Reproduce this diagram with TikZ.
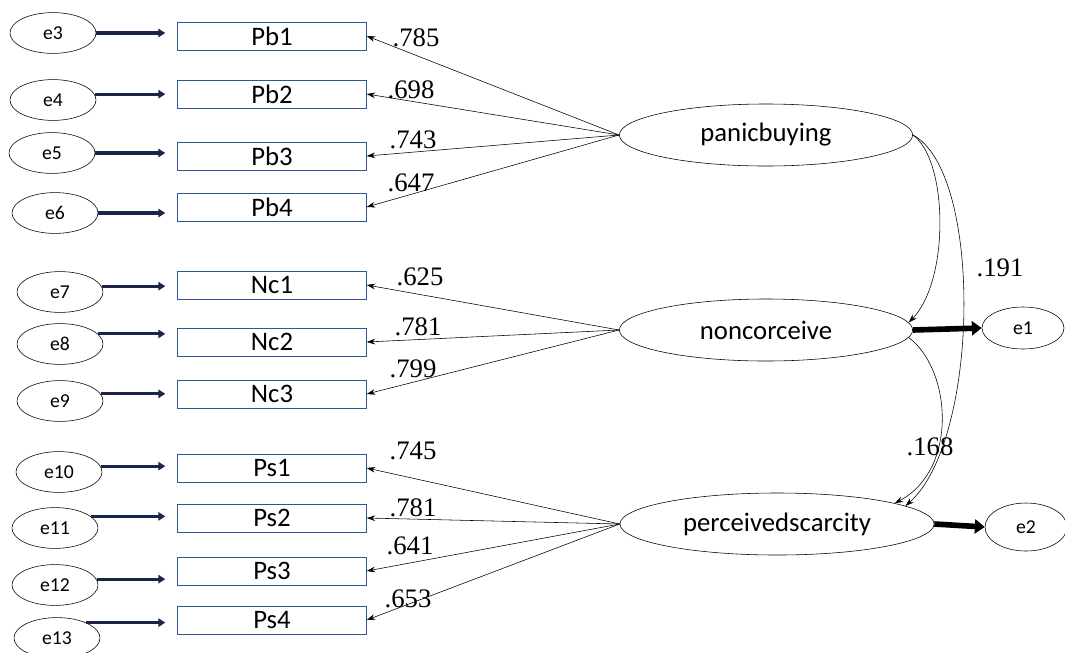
\documentclass[tikz,border=0pt]{standalone}
\usepackage{fontspec}
\setmainfont{Liberation Serif}
\newfontfamily\calib{Carlito}
\usetikzlibrary{positioning,arrows.meta,shapes.geometric}
\definecolor{boxblue}{HTML}{2F5597}
\definecolor{errnavy}{HTML}{1B2548}

\tikzset{
  obs/.style={draw=boxblue, thin, minimum width=4.72cm, minimum height=0.7cm, inner sep=0pt, font=\calib\fontsize{19}{19}\selectfont},
  err/.style={ellipse, draw, thin, minimum width=2.15cm, minimum height=1.02cm, inner sep=0pt, font=\calib\fontsize{14}{14}\selectfont},
  lat/.style={ellipse, draw, thin, minimum width=7.33cm, minimum height=1.55cm, inner sep=0pt, font=\calib\fontsize{19}{19}\selectfont},
  errarrow/.style={draw=errnavy, line width=2.2pt, -{Triangle[length=5pt,width=6pt]}, shorten >=0.3cm},
  bigarrow/.style={draw=black, line width=4pt, -{Triangle[length=7pt,width=10pt]}},
  load/.style={draw, thin, -{Stealth[length=6pt,width=4pt]}},
  coef/.style={font=\fontsize{19}{19}\selectfont, inner sep=0pt}
}

\begin{document}
\begin{tikzpicture}[x=0.025cm,y=-0.025cm]
    \useasboundingbox (0,0) rectangle (1065,652);
    % latent variables
    \node[lat] (pb) at (766,135) {panicbuying};
    \node[lat] (nc) at (766,330) {noncorceive};
    \node[lat, minimum width=7.85cm] (ps) at (777,524) {perceivedscarcity};
    \node[err, minimum width=2.05cm, minimum height=1.05cm] (e1) at (1023,328) {e1};
    \node[err, minimum width=2.05cm, minimum height=1.2cm] (e2) at (1026,527) {e2};
    % indicators
    \node[obs] (Pb1) at (272,36) {Pb1};
    \node[obs] (Pb2) at (272,94) {Pb2};
    \node[obs] (Pb3) at (272,156) {Pb3};
    \node[obs] (Pb4) at (272,207) {Pb4};
    \node[obs] (Nc1) at (272,285) {Nc1};
    \node[obs] (Nc2) at (272,342) {Nc2};
    \node[obs] (Nc3) at (272,394) {Nc3};
    \node[obs] (Ps1) at (272,468) {Ps1};
    \node[obs] (Ps2) at (272,518) {Ps2};
    \node[obs] (Ps3) at (272,571) {Ps3};
    \node[obs] (Ps4) at (272,620) {Ps4};
    % error terms
    \node[err] (e3) at (53,33) {e3};
    \node[err] (e4) at (53,100) {e4};
    \node[err] (e5) at (52,153) {e5};
    \node[err] (e6) at (55,213) {e6};
    \node[err] (e7) at (60,292) {e7};
    \node[err] (e8) at (60,344) {e8};
    \node[err] (e9) at (60,401) {e9};
    \node[err] (e10) at (59,472) {e10};
    \node[err] (e11) at (55,528) {e11};
    \node[err] (e12) at (55,585) {e12};
    \node[err] (e13) at (57,638) {e13};
    \foreach \e/\b/\a in {3/Pb1/0,4/Pb2/8,5/Pb3/0,6/Pb4/0,7/Nc1/8,8/Nc2/15,9/Nc3/10,
                          10/Ps1/8,11/Ps2/18,12/Ps3/8,13/Ps4/28}
      \draw[errarrow] (e\e.\a) -- (e\e.\a -| \b.west);
    % loadings
    \foreach \b in {Pb1,Pb2,Pb3,Pb4}
      \draw[load] (pb.west) -- (\b.east);
    \foreach \b in {Nc1,Nc2,Nc3}
      \draw[load] (nc.west) -- (\b.east);
    \foreach \b in {Ps1,Ps2,Ps3,Ps4}
      \draw[load] (ps.west) -- (\b.east);
    \node[coef] (c1) at (416,38) {.785};
    \node[coef] (c2) at (411,90) {.698};
    \node[coef] (c3) at (413,140) {.743};
    \node[coef] (c4) at (411,183) {.647};
    \node[coef] (c5) at (420,277) {.625};
    \node[coef] (c6) at (418,327) {.781};
    \node[coef] (c7) at (413,369) {.799};
    \node[coef] (c8) at (413,451) {.745};
    \node[coef] (c9) at (413,508) {.781};
    \node[coef] (c10) at (410,546) {.641};
    \node[coef] (c11) at (408,599) {.653};
    % structural paths
    \draw[load] (pb.east) .. controls (948,160) and (950,280) .. (nc.3);
    \draw[load] (pb.east) .. controls (983,172) and (980,440) .. (ps.8);
    \draw[load] (nc.-3) .. controls (952,370) and (958,470) .. (ps.10);
    \draw[bigarrow] (nc.east) -- (e1.west);
    \draw[bigarrow] (ps.east) -- (e2.west);
    \node[coef] (c12) at (1000,268) {.191};
    \node[coef] (c13) at (930,447) {.168};
\end{tikzpicture}
\end{document}
